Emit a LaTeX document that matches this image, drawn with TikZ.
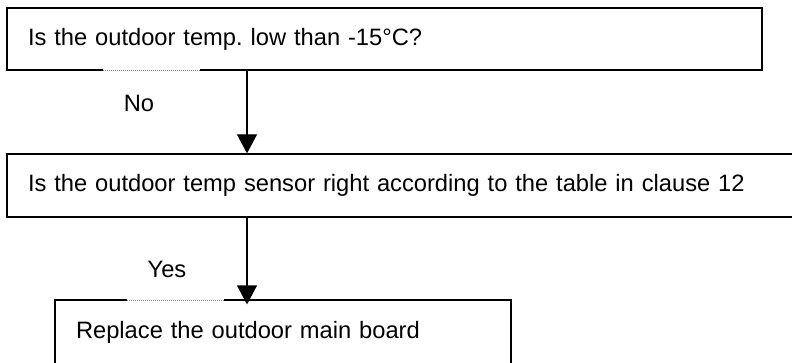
\documentclass[tikz,border=0pt]{standalone}
\usepackage{fontspec}
\setmainfont{Liberation Sans}
\usetikzlibrary{arrows.meta}
\frenchspacing
\begin{document}
\begin{tikzpicture}[x=1pt,y=-1pt,
  box/.style={draw=black, rectangle, anchor=center, inner xsep=21pt, inner ysep=0pt, align=left, font=\fontsize{23.7pt}{28pt}\selectfont\frenchspacing},
  lbl/.style={font=\fontsize{23.7pt}{28pt}\selectfont, inner sep=0pt, anchor=base},
  flow/.style={line width=1.2pt, -{Triangle[width=20pt,length=19pt]}},
  gap/.style={draw=white, line width=2.5pt},
  dots/.style={draw=black!45, line width=0.8pt, dash pattern=on 1pt off 1pt}]
\useasboundingbox (0,0) rectangle (792,363);
\clip (0,0) rectangle (792,363);
\node[box, line width=1.6pt, text width=713pt, minimum height=62pt] (q1) at (384.5,39) {Is the outdoor temp. low than -15°C?};
\node[box, line width=1.3pt, text width=751pt, minimum height=63pt] (q2) at (403.5,185.5) {Is the outdoor temp sensor right according to the table in clause 12};
\node[box, line width=1.2pt, text width=414pt, minimum height=65pt] (act) at (283,332.5) {Replace the outdoor main board};
\node[lbl] (no) at (139,112) {No};
\node[lbl] (yes) at (167,277) {Yes};
\draw[gap] (103,70) -- (200,70);
\draw[dots] (103,70) -- (200,70);
\draw[gap] (127,300) -- (224,300);
\draw[dots] (127,300) -- (224,300);
\coordinate (ax) at (247,0);
\draw[flow] (q1.south -| ax) -- (q2.north -| ax);
\draw[flow, shorten >=-5pt] (q2.south -| ax) -- (act.north -| ax);
\end{tikzpicture}
\end{document}
